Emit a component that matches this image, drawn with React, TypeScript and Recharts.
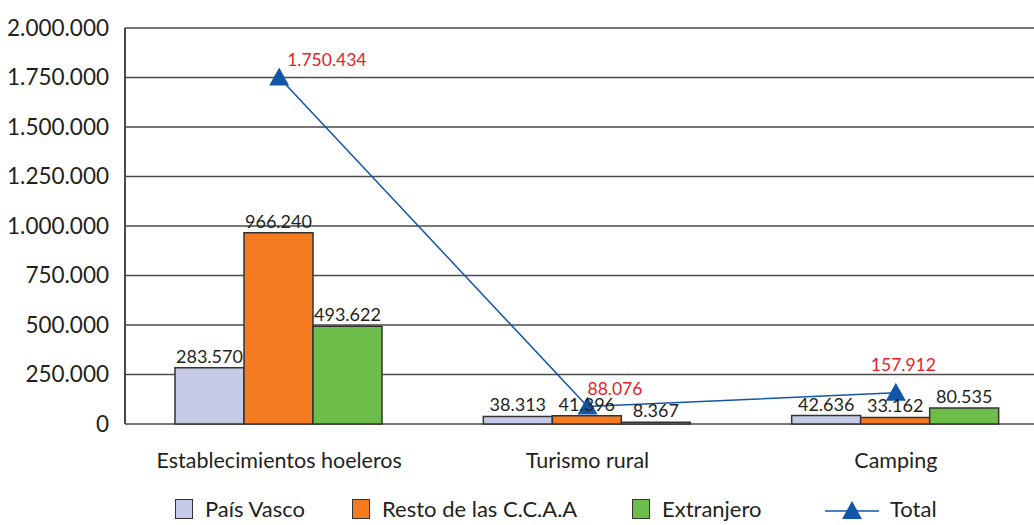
import React from 'react';
import {
  ComposedChart,
  Bar,
  Line,
  XAxis,
  YAxis,
  CartesianGrid,
  Legend,
  LabelList,
} from 'recharts';

const categories = ['Establecimientos hoeleros', 'Turismo rural', 'Camping'];
const paisVasco = [283570, 38313, 42636];
const restoCCAA = [966240, 41396, 33162];
const extranjero = [493622, 8367, 80535];
const total = [1750434, 88076, 157912];
const yTicks = [0, 250000, 500000, 750000, 1000000, 1250000, 1500000, 1750000, 2000000];

const data = categories.map((name, i) => ({
  name,
  paisVasco: paisVasco[i],
  resto: restoCCAA[i],
  extranjero: extranjero[i],
  total: total[i],
}));

const COLORS = {
  pais: '#c5cbe6',
  resto: '#f47b20',
  extr: '#6cbd4a',
  total: '#1256a8',
  red: '#e8202a',
  grid: '#4a4a4a',
  text: '#231f20',
};

const FONT = 'Lato, "Open Sans", sans-serif';

const fmt = (v: number) => String(Math.round(v)).replace(/\B(?=(\d{3})+(?!\d))/g, '.');

// where each red total label sits relative to its triangle
const totalLabelShift = [
  [8, -11],
  [0, -12],
  [-25, -22],
];

const Triangle = (props: any) => {
  const { cx, cy } = props;
  if (cx == null || cy == null) return null;
  return (
    <path
      d={`M${cx},${cy - 10} L${cx + 10},${cy + 8} L${cx - 10},${cy + 8} Z`}
      fill={COLORS.total}
    />
  );
};

const TotalLabel = (props: any) => {
  const { x, y, value, index } = props;
  const [dx, dy] = totalLabelShift[index] || [0, -12];
  return (
    <text x={x + dx} y={y + dy} fill={COLORS.red} fontSize={17.5} fontFamily={FONT} textAnchor="start">
      {fmt(value)}
    </text>
  );
};

const Swatch = ({ color }: { color: string }) => (
  <span
    style={{
      display: 'inline-block',
      width: 16,
      height: 18,
      background: color,
      border: '1.5px solid #333',
      marginRight: 12,
    }}
  />
);

const item = (w?: number): React.CSSProperties => ({
  display: 'flex',
  alignItems: 'center',
  width: w,
  flexShrink: 0,
});

const CustomLegend = () => (
  <div
    style={{
      display: 'flex',
      alignItems: 'center',
      paddingLeft: 175,
      fontFamily: FONT,
      fontSize: 22,
      color: COLORS.text,
      height: 41,
      position: 'relative',
      top: 4,
    }}
  >
    <div style={item(177)}>
      <Swatch color={COLORS.pais} />
      País Vasco
    </div>
    <div style={item(280)}>
      <Swatch color={COLORS.resto} />
      Resto de las C.C.A.A
    </div>
    <div style={item(193)}>
      <Swatch color={COLORS.extr} />
      Extranjero
    </div>
    <div style={item()}>
      <svg width={54} height={20} style={{ marginRight: 11 }}>
        <line x1={0} y1={12} x2={54} y2={12} stroke={COLORS.total} strokeWidth={1.5} />
        <path d="M27,2 L37,20 L17,20 Z" fill={COLORS.total} />
      </svg>
      Total
    </div>
  </div>
);

export default function App() {
  return (
    <div style={{ position: 'absolute', left: 0, top: 0, background: '#fff', overflow: 'hidden', width: 1034, height: 525 }}>
      <ComposedChart
        width={1050}
        height={525}
        data={data}
        margin={{ top: 28, right: 0, left: 0, bottom: 0 }}
        barGap={0}
        barCategoryGap={50}
      >
        <CartesianGrid vertical={false} stroke={COLORS.grid} strokeWidth={1.5} />
        <XAxis
          dataKey="name"
          axisLine={false}
          tickLine={false}
          tickMargin={23}
          height={60}
          tick={{ fontSize: 21.5, fill: COLORS.text, fontFamily: FONT }}
        />
        <YAxis
          width={125}
          domain={[0, 2000000]}
          ticks={yTicks}
          interval={0}
          tickFormatter={fmt}
          axisLine={{ stroke: COLORS.grid, strokeWidth: 2 }}
          tickLine={false}
          tickMargin={10}
          tick={{ fontSize: 22.5, fill: COLORS.text, fontFamily: FONT }}
        />
        <Legend verticalAlign="bottom" height={41} content={<CustomLegend />} />
        <Bar dataKey="paisVasco" fill={COLORS.pais} stroke="#333" strokeWidth={1.5} isAnimationActive={false}>
          <LabelList dataKey="paisVasco" position="top" offset={5} formatter={fmt} fill={COLORS.text} fontSize={18} fontFamily={FONT} />
        </Bar>
        <Bar dataKey="resto" fill={COLORS.resto} stroke="#333" strokeWidth={1.5} isAnimationActive={false}>
          <LabelList dataKey="resto" position="top" offset={5} formatter={fmt} fill={COLORS.text} fontSize={18} fontFamily={FONT} />
        </Bar>
        <Bar dataKey="extranjero" fill={COLORS.extr} stroke="#333" strokeWidth={1.5} isAnimationActive={false}>
          <LabelList dataKey="extranjero" position="top" offset={5} formatter={fmt} fill={COLORS.text} fontSize={18} fontFamily={FONT} />
        </Bar>
        <Line
          type="linear"
          dataKey="total"
          stroke={COLORS.total}
          strokeWidth={1.5}
          dot={<Triangle />}
          activeDot={false}
          isAnimationActive={false}
        >
          <LabelList dataKey="total" content={<TotalLabel />} />
        </Line>
      </ComposedChart>
    </div>
  );
}
